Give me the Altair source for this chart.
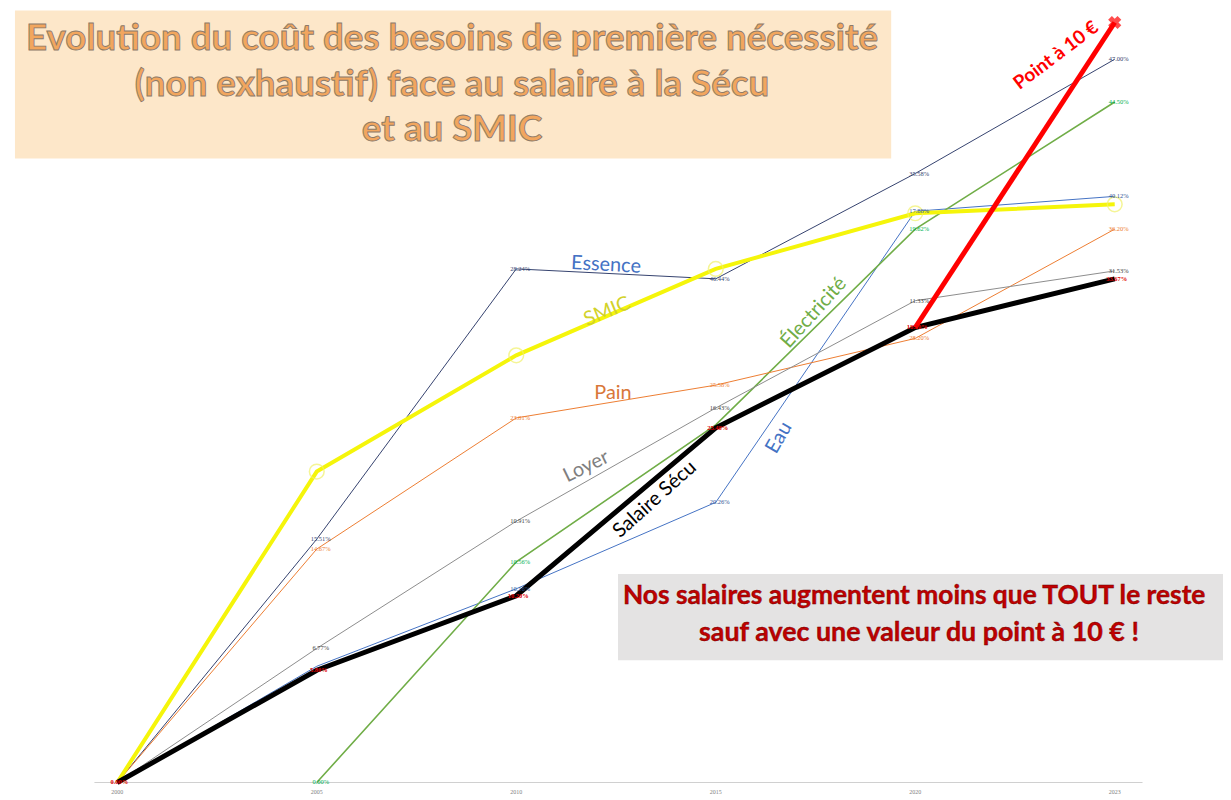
import altair as alt
import pandas as pd

years = ["2000", "2005", "2010", "2015", "2020", "2023"]

essence = [0, 24.5, 51.7, 50.7, 61.3, 72.8]
eau = [0, 11.7, 19.5, 28.2, 57.5, 59.0]
electricite = [None, 0, 22.2, 36.0, 55.7, 68.5]
pain = [0, 23.5, 36.7, 40.0, 44.7, 55.7]
loyer = [0, 13.5, 26.3, 37.7, 48.5, 51.5]
secu = [0, 11.3, 18.8, 35.7, 45.8, 50.7]
smic = [0, 31.3, 43.0, 51.7, 57.3, 58.2]
point10 = [None, None, None, None, 45.8, 76.5]

essence_lbl = ["", "15.51%", "28.24%", "46.44%", "35.58%", "47.00%"]
eau_lbl = ["", "", "10.16%", "20.26%", "17.88%", "40.12%"]
elec_lbl = ["", "0.00%", "10.56%", "", "19.62%", "44.50%"]
pain_lbl = ["", "14.67%", "23.81%", "25.58%", "28.20%", "36.20%"]
loyer_lbl = ["", "6.77%", "10.91%", "16.43%", "11.33%", "31.53%"]
secu_lbl = ["0.00%", "5.80%", "10.20%", "25.48%", "18.20%", "33.67%"]

series = [
    ("Essence", essence, essence_lbl, "#34426E", 1.0, "#34426E"),
    ("Eau", eau, eau_lbl, "#4472C4", 1.0, "#2F5597"),
    ("Électricité", electricite, elec_lbl, "#70AD47", 1.6, "#00B050"),
    ("Pain", pain, pain_lbl, "#ED7D31", 1.0, "#ED7D31"),
    ("Loyer", loyer, loyer_lbl, "#8C8C8C", 1.0, "#404040"),
]

def frame(name, vals, lbls=None):
    rows = []
    for i, v in enumerate(vals):
        if v is None:
            continue
        rows.append({"serie": name, "i": i, "year": years[i], "v": v,
                     "lbl": lbls[i] if lbls else ""})
    return pd.DataFrame(rows)

W, H = 1223, 792
xs = alt.Scale(domain=[-0.5478, 5.5428])
ys = alt.Scale(domain=[-1.5, 77.7])
X = alt.X("i:Q", scale=xs, axis=None)
Y = alt.Y("v:Q", scale=ys, axis=None)

layers = []

def one():
    return pd.DataFrame({"a": [0]})

def rect(x1, x2, y1, y2, color):
    return alt.Chart(one()).mark_rect(color=color).encode(
        x=alt.value(x1 - 8), x2=alt.value(x2 - 8), y=alt.value(y1 - 8), y2=alt.value(y2 - 8))

def ann(text, x, y, size, color, angle=0, bold=False, font="Lato", align="center",
        stroke=None, sw=0.7):
    props = dict(text=text, fontSize=size, fill=color, angle=angle % 360, font=font,
                 align=align, baseline="middle", fontWeight="bold" if bold else "normal")
    if stroke:
        props.update(stroke=stroke, strokeWidth=sw)
    return alt.Chart(one()).mark_text(**props).encode(x=alt.value(x - 8), y=alt.value(y - 8))

# background boxes
layers.append(rect(15, 897, 8, 157, "#FDE7C9"))
layers.append(rect(622, 1231, 575, 662, "#E4E3E3"))

# axis baseline
layers.append(alt.Chart(one()).mark_rule(color="#D0D0D0", strokeWidth=1).encode(
    x=alt.value(95 - 8), x2=alt.value(1150 - 8), y=alt.value(785 - 8)))

# x labels
xl = pd.DataFrame({"i": list(range(len(years))), "year": years})
layers.append(alt.Chart(xl).mark_text(fontSize=6, color="#808080", font="Liberation Serif",
                                      baseline="middle").encode(
    x=X, y=alt.value(795 - 8), text="year:N"))

# thin series
for name, vals, lbls, col, sw, lcol in series:
    df = frame(name, vals, lbls)
    layers.append(alt.Chart(df).mark_line(color=col, strokeWidth=sw).encode(x=X, y=Y, order="i:Q"))

# SMIC
smic_df = frame("SMIC", smic)
layers.append(alt.Chart(smic_df).mark_line(color="#F5F50A", strokeWidth=4).encode(x=X, y=Y, order="i:Q"))
layers.append(alt.Chart(smic_df[smic_df.i > 0]).mark_point(
    shape="circle", size=220, filled=False, color="#F2F26A", strokeWidth=1.5).encode(x=X, y=Y))

# Salaire Sécu
secu_df = frame("Salaire Sécu", secu, secu_lbl)
layers.append(alt.Chart(secu_df).mark_line(color="#000000", strokeWidth=5).encode(x=X, y=Y, order="i:Q"))

# Point à 10 €
p_df = frame("Point à 10 €", point10)
layers.append(alt.Chart(p_df).mark_line(color="#FF0000", strokeWidth=5).encode(x=X, y=Y, order="i:Q"))
layers.append(alt.Chart(p_df[p_df.i == 5]).mark_point(
    shape="cross", angle=45, size=180, filled=True, color="#FF0000").encode(x=X, y=Y))

# data labels
for name, vals, lbls, col, sw, lcol in series:
    df = frame(name, vals, lbls)
    layers.append(alt.Chart(df).mark_text(fontSize=6.5, color=lcol, font="Liberation Serif",
                                          baseline="middle", dx=4).encode(x=X, y=Y, text="lbl:N"))
layers.append(alt.Chart(secu_df).mark_text(fontSize=6.5, color="#E00000", font="Liberation Serif",
                                           fontWeight="bold", baseline="middle", dx=2).encode(
    x=X, y=Y, text="lbl:N"))

# series annotations
layers.append(ann("Essence", 610, 264, 20, "#4472C4", angle=3))
layers.append(ann("SMIC", 611, 311, 20, "#D2D22A", angle=-22))
layers.append(ann("Pain", 617, 393, 20, "#D9773A"))
layers.append(ann("Loyer", 590, 467, 20, "#7F7F7F", angle=-26))
layers.append(ann("Salaire Sécu", 659, 500, 20, "#000000", angle=-42))
layers.append(ann("Électricité", 819, 312, 20, "#70AD47", angle=-48))
layers.append(ann("Eau", 784, 438, 20, "#4472C4", angle=-60))
layers.append(ann("Point à 10 €", 1063, 53, 19, "#FF0000", angle=-37, bold=True))

# title
tcol, tstroke = "#F2A65E", "#8C7A6A"
layers.append(ann("Evolution du coût des besoins de première nécessité", 455, 37, 37, tcol,
                  bold=True, stroke=tstroke, sw=0.9))
layers.append(ann("(non exhaustif) face au salaire à la Sécu", 455, 83, 37, tcol,
                  bold=True, stroke=tstroke, sw=0.9))
layers.append(ann("et au SMIC", 455, 128, 37, tcol, bold=True, stroke=tstroke, sw=0.9))

# message box
layers.append(ann("Nos salaires augmentent moins que TOUT le reste", 627, 597, 26.5, "#C00000",
                  bold=True, align="left", stroke="#6A0000", sw=0.4))
layers.append(ann("sauf avec une valeur du point à 10 € !", 925, 635, 27, "#C00000",
                  bold=True, stroke="#6A0000", sw=0.4))

chart = alt.layer(*layers).properties(
    width=W, height=H, padding=0, background="white",
    autosize=alt.AutoSizeParams(type="none"),
).configure_view(stroke=None)

chart.save("out.html", embed_options={"renderer": "svg", "actions": False})
